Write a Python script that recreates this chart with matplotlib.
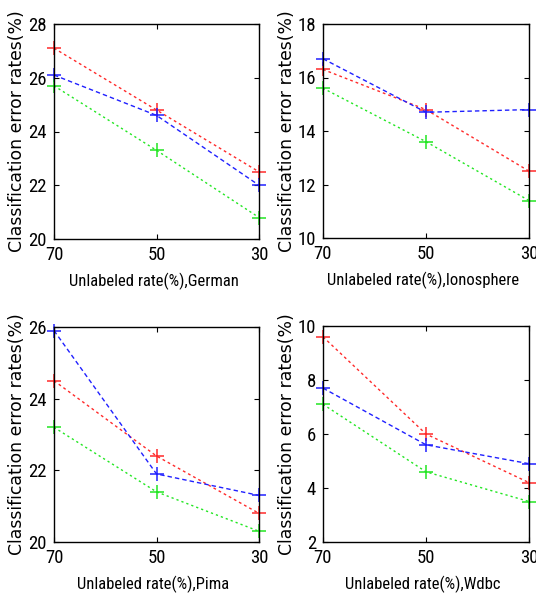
import matplotlib
matplotlib.use("Agg")
import matplotlib.pyplot as plt

TICK_FONT = ['Roboto Condensed', 'Liberation Sans', 'DejaVu Sans']
YLAB_FONT = ['DejaVu Sans']
plt.rcParams['font.family'] = TICK_FONT

x_vals = [70, 50, 30]
x_ticklabels = ['70', '50', '30']

datasets = ['German', 'Ionosphere', 'Pima', 'Wdbc']
red_vals = {
    'German': [27.1, 24.8, 22.5],
    'Ionosphere': [16.3, 14.8, 12.5],
    'Pima': [24.5, 22.4, 20.8],
    'Wdbc': [9.6, 6.0, 4.2],
}
blue_vals = {
    'German': [26.1, 24.6, 22.0],
    'Ionosphere': [16.7, 14.7, 14.8],
    'Pima': [25.9, 21.9, 21.3],
    'Wdbc': [7.7, 5.6, 4.9],
}
green_vals = {
    'German': [25.7, 23.3, 20.8],
    'Ionosphere': [15.6, 13.6, 11.4],
    'Pima': [23.2, 21.4, 20.3],
    'Wdbc': [7.1, 4.6, 3.5],
}
y_ranges = {
    'German': (20, 28, [20, 22, 24, 26, 28]),
    'Ionosphere': (10, 18, [10, 12, 14, 16, 18]),
    'Pima': (20, 26, [20, 22, 24, 26]),
    'Wdbc': (2, 10, [2, 4, 6, 8, 10]),
}
x_label_prefix = 'Unlabeled rate(%),'
y_label = 'Classification error rates(%)'

W, H = 536, 599
fig = plt.figure(figsize=(W / 100, H / 100), dpi=100)
fig.patch.set_facecolor('white')

# pixel boxes: left, top, right, bottom
boxes = {
    'German': (54, 24, 259, 239),
    'Ionosphere': (323, 24, 529, 238),
    'Pima': (54, 327, 259, 542),
    'Wdbc': (323, 326, 529, 542),
}

for name in datasets:
    l, t, r, b = boxes[name]
    w, h = r - l, b - t
    ax = fig.add_axes([l / W, 1 - b / H, w / W, h / H])
    ax.plot(x_vals, red_vals[name], color='#ff2a2a', lw=1.0, dashes=(2, 2.2),
            marker='+', ms=10, mew=1.1, clip_on=False)
    ax.plot(x_vals, blue_vals[name], color='#2020ff', lw=1.0, dashes=(3.2, 2.2),
            marker='+', ms=10, mew=1.1, clip_on=False)
    ax.plot(x_vals, green_vals[name], color='#22e622', lw=1.0, dashes=(1.6, 2.2),
            marker='+', ms=10, mew=1.1, clip_on=False)
    ymin, ymax, yt = y_ranges[name]
    ax.set_xlim(70, 30)
    ax.set_ylim(ymin, ymax)
    ax.set_xticks(x_vals)
    ax.set_xticklabels(x_ticklabels)
    ax.set_yticks(yt)
    ax.tick_params(direction='in', top=True, right=True, length=3.5, width=0.8,
                   labelsize=13.5, colors='black')
    ax.tick_params(axis='x', pad=5)
    ax.tick_params(axis='y', pad=5)
    for sp in ax.spines.values():
        sp.set_linewidth(1.0)
    xl = ax.set_xlabel(x_label_prefix + name, fontsize=12)
    xl.set_va('center')
    ax.xaxis.set_label_coords((w / 2 - 3) / w, -42 / h)
    yl = ax.set_ylabel(y_label, fontsize=12.4, fontfamily=YLAB_FONT)
    yl.set_va('center')
    ax.yaxis.set_label_coords(-(l - (l - 36.5)) / w, 0.5)

fig.savefig('out.png', dpi=100)
